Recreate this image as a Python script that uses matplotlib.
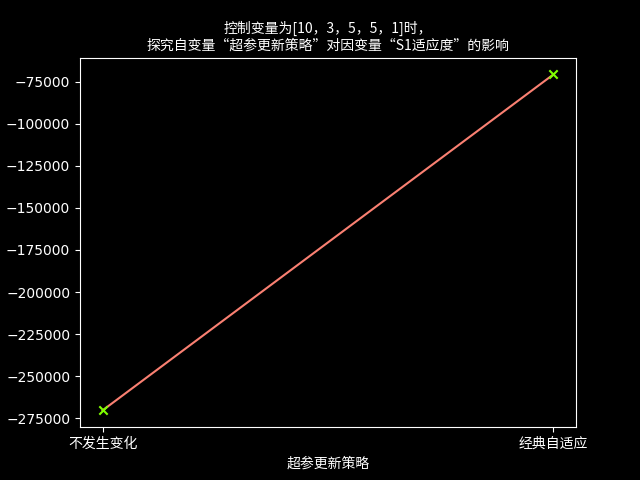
import matplotlib.pyplot as plt
from matplotlib.font_manager import FontProperties

strategies = ["不发生变化", "经典自适应"]
fitness = [-270300, -70700]

plt.style.use("dark_background")
cn = FontProperties(family="Noto Sans CJK SC", size=10)

fig, ax = plt.subplots(figsize=(6.4, 4.8), dpi=100)
ax.plot(strategies, fitness, color="salmon")
ax.scatter(strategies, fitness, marker="x", color="#7fff00", zorder=3)
ax.set_title("控制变量为[10，3，5，5，1]时，\n探究自变量“超参更新策略”对因变量“S1适应度”的影响",
             fontproperties=cn)
ax.set_xlabel("超参更新策略", fontproperties=cn)
for lbl in ax.get_xticklabels():
    lbl.set_fontproperties(cn)

fig.savefig("out.png")
